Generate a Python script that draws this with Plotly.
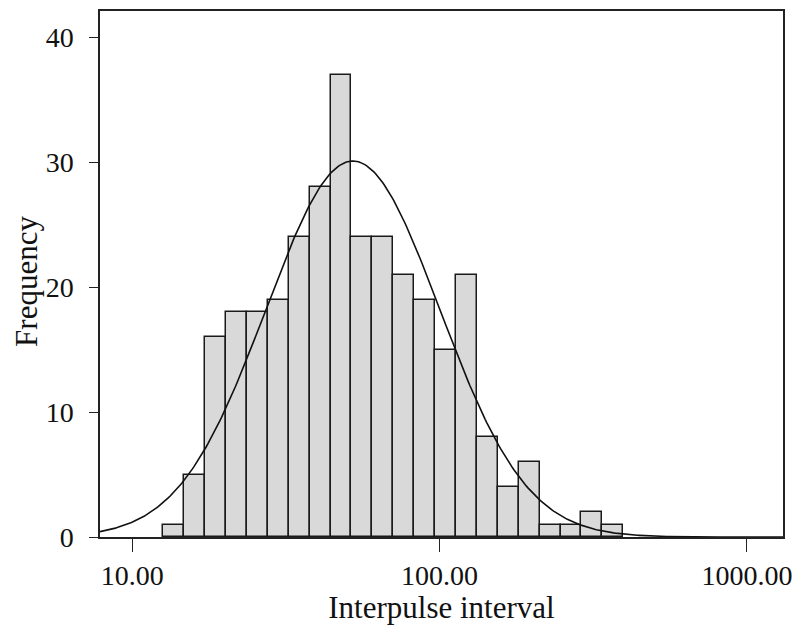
import numpy as np
import plotly.graph_objects as go

# Histogram of interpulse intervals (log-spaced bins)
counts = [1, 5, 16, 18, 18, 19, 24, 28, 37, 24, 24, 21, 19, 15, 21, 8, 4, 6, 1, 1, 2, 1]
bin_start = 12.62          # lower edge of first bin (interval units)
bin_log_width = 0.06803    # bin width in log10 units

tick_values = [10, 100, 1000]
tick_labels = ["10.00", "100.00", "1000.00"]
y_ticks = [0, 10, 20, 30, 40]

x_range_values = [7.86, 1310.0]
y_max = 42.1

# ---- derived
counts_arr = np.array(counts, dtype=float)
n_bins = len(counts)
log0 = np.log10(bin_start)
centers = log0 + bin_log_width * (np.arange(n_bins) + 0.5)

N = counts_arr.sum()
mean = (counts_arr * centers).sum() / N
sd = np.sqrt((counts_arr * (centers - mean) ** 2).sum() / (N - 1))

xr = np.log10(x_range_values)
xc = np.linspace(xr[0], xr[1], 400)
yc = N * bin_log_width / (sd * np.sqrt(2 * np.pi)) * np.exp(-0.5 * ((xc - mean) / sd) ** 2)

fig = go.Figure()
fig.add_trace(go.Bar(
    x=centers, y=counts, width=bin_log_width,
    marker=dict(color="#d9d9d9", line=dict(color="#1a1a1a", width=1.5)),
    showlegend=False, hoverinfo="x+y",
))
fig.add_trace(go.Scatter(
    x=xc, y=yc, mode="lines",
    line=dict(color="#111111", width=1.6),
    showlegend=False, hoverinfo="skip",
))

font_family = "Liberation Serif"
W, H = 792, 617
ml, mr, mt, mb = 91.5, 17.3, 3, 87.7
# page body has an 8px default margin; figure is sized to sit inside it
fig.update_layout(
    width=W, height=H,
    margin=dict(l=ml, r=mr, t=mt, b=mb),
    paper_bgcolor="white", plot_bgcolor="white",
    font=dict(family=font_family, color="#111111", size=28),
    bargap=0,
)
fig.update_xaxes(
    range=list(xr), automargin=False,
    tickmode="array", tickvals=list(np.log10(tick_values)), ticktext=tick_labels,
    ticks="outside", ticklen=13, tickwidth=1.4, tickcolor="#222222",
    showline=True, mirror=True, linecolor="#222222", linewidth=1.5,
    showgrid=False, zeroline=False,
    tickfont=dict(size=28, family=font_family),
    title=dict(text="Interpulse interval", font=dict(size=31, family=font_family)),
)
fig.update_yaxes(
    range=[0, y_max], automargin=False,
    tickmode="array", tickvals=y_ticks,
    ticks="outside", ticklen=9, tickwidth=1.4, tickcolor="#222222",
    ticklabelstandoff=10,
    showline=True, mirror=True, linecolor="#222222", linewidth=1.5,
    showgrid=False, zeroline=False,
    tickfont=dict(size=28, family=font_family),
)
fig.add_annotation(
    text="Frequency", textangle=-90,
    xref="paper", yref="paper",
    x=-ml / (W - ml - mr), y=0.485,
    xanchor="left", yanchor="middle",
    showarrow=False, borderpad=0,
    font=dict(size=31, family=font_family, color="#111111"),
)

fig.write_html("out.html")
